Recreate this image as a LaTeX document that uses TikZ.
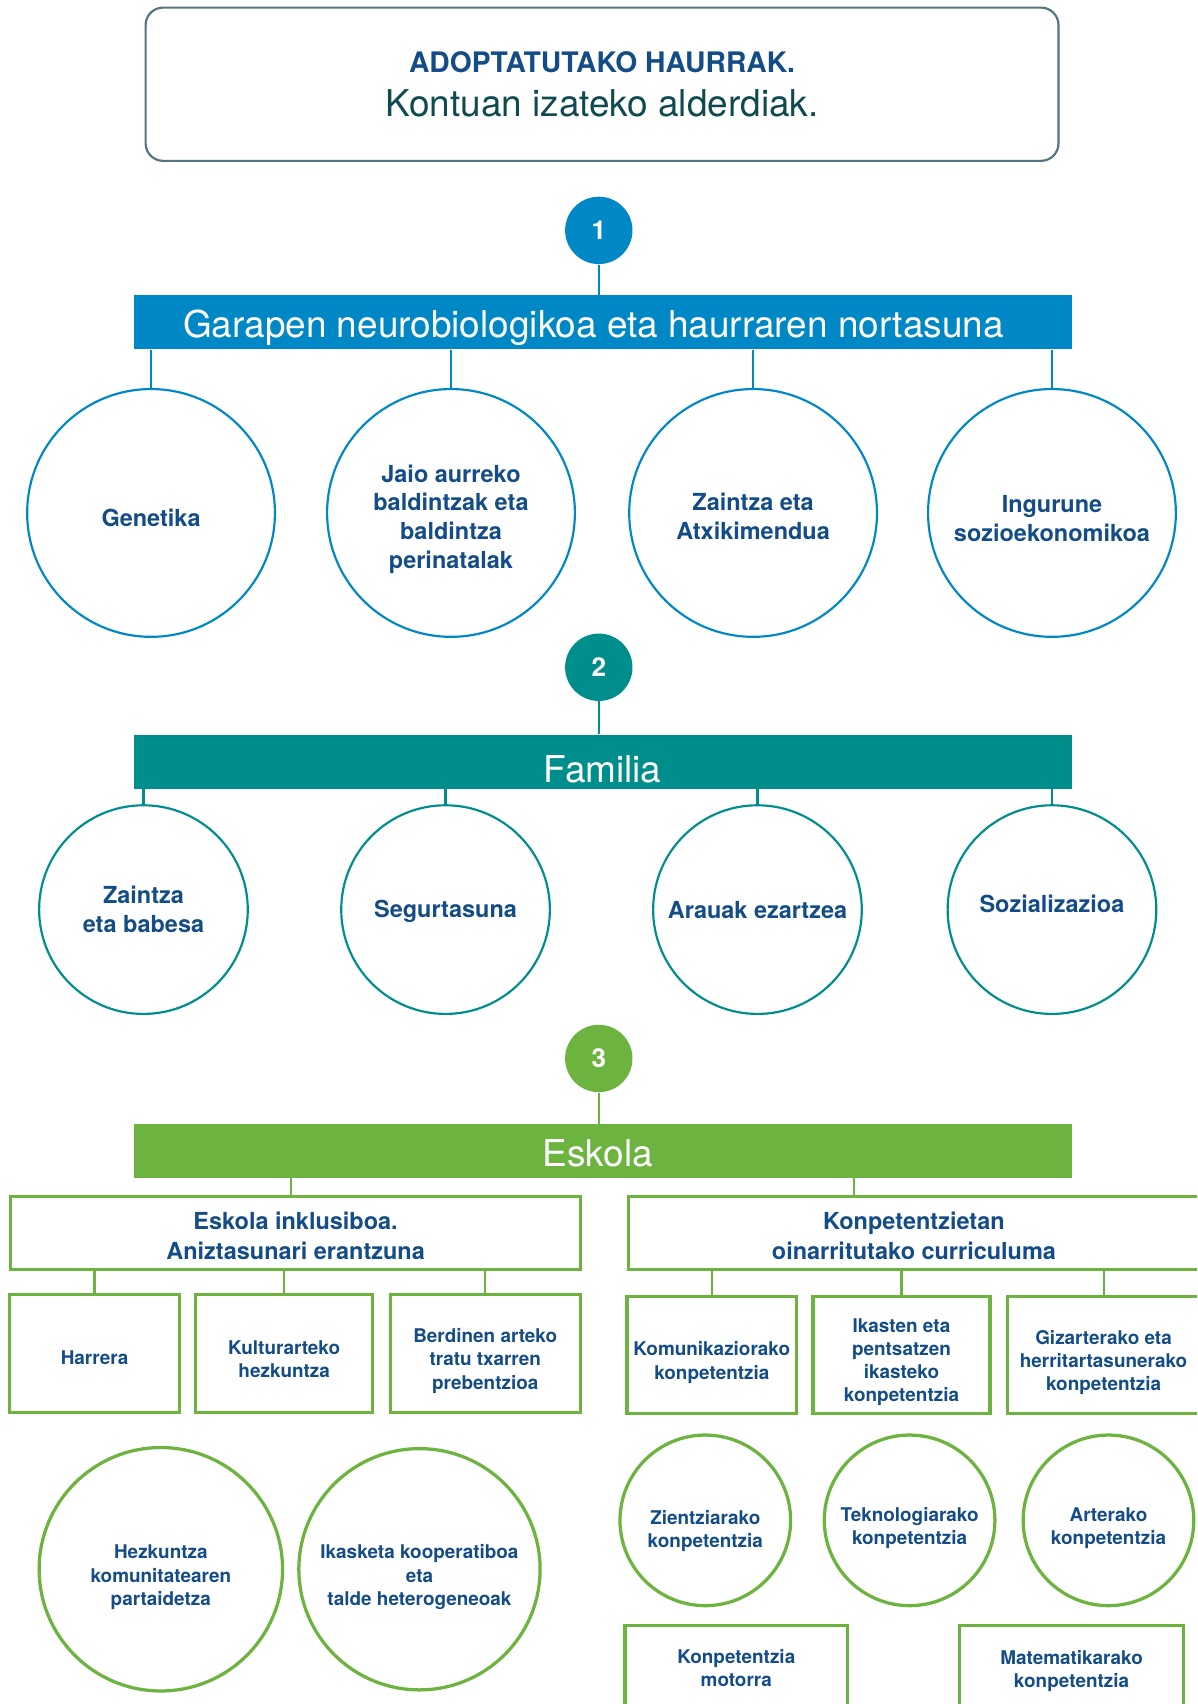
\documentclass[tikz,border=0pt]{standalone}
\usepackage{fontspec}
\setmainfont{TeX Gyre Heros}
\definecolor{cblue}{HTML}{0088C6}
\definecolor{cteal}{HTML}{008E8C}
\definecolor{cgreen}{HTML}{6DB33F}
\definecolor{ctext}{HTML}{134C86}
\definecolor{cframe}{HTML}{56737F}
\definecolor{ctitle}{HTML}{0F4A50}
\newcommand\fsz[2]{\fontsize{#1}{#2}\selectfont}
\newcommand\lift[1]{\rule{0pt}{#1}}
\begin{document}
\begin{tikzpicture}[x=0.5pt,y=-0.5pt,
  num/.style={circle, fill=#1, minimum size=31pt, inner sep=0pt, text=white, font=\bfseries\fsz{12}{14}},
  bar/.style={fill=#1, minimum width=431.5pt, minimum height=24.75pt, inner sep=0pt, text=white, font=\fsz{17}{19}},
  conn/.style={draw=#1, line width=1pt},
  ring/.style={circle, draw=#1, line width=1pt, inner sep=0pt, align=center, text=ctext},
  gbox/.style={draw=cgreen, line width=1.5pt, inner sep=0pt, align=center, text=ctext},
  lab1/.style={font=\bfseries\fsz{10.8}{13.3}},
  lab2/.style={font=\bfseries\fsz{8.7}{10.7}},
  shl/.style={execute at end node={\hspace*{#1}}}
]
\useasboundingbox (0,0) rectangle (1101.5,1568);
\clip (0,0) rectangle (1101.5,1568);

% title
\node[draw=cframe, line width=1pt, rounded corners=8pt, minimum width=420pt, minimum height=70.5pt, align=center] (title) at (554,77.5)
  {{\bfseries\fsz{13}{15}\color{ctext}ADOPTATUTAKO HAURRAK.}\\[7pt]{\fsz{17}{20}\color{ctitle}Kontuan izateko alderdiak.}};

% level 1
\node[num=cblue] (n1) at (551,212) {1};
\node[bar=cblue, shl=8.5pt] (b1) at (554.5,296.5) {\lift{18.2pt}Garapen neurobiologikoa eta haurraren nortasuna};
\draw[conn=cblue] (n1) -- (n1 |- b1.north);
\node[ring=cblue, minimum size=114pt, lab1] (c11) at (139,472) {\lift{13pt}Genetika};
\node[ring=cblue, minimum size=114pt, lab1] (c12) at (415,472) {\lift{13.8pt}Jaio aurreko\\baldintzak eta\\baldintza\\perinatalak};
\node[ring=cblue, minimum size=114pt, lab1] (c13) at (693,472) {\lift{11pt}Zaintza eta\\Atxikimendua};
\node[ring=cblue, minimum size=114pt, lab1] (c14) at (968,472) {\lift{13.3pt}Ingurune\\sozioekonomikoa};
\foreach \c in {c11,c12,c13,c14} \draw[conn=cblue] (\c.north) -- (\c.north |- b1.south);

% level 2
\node[num=cteal] (n2) at (551,614) {2};
\node[bar=cteal] (b2) at (554.5,701) {\lift{19.2pt}Familia};
\draw[conn=cteal] (n2) -- (n2 |- b2.north);
\node[ring=cteal, minimum size=96pt, lab1] (c21) at (132,837) {Zaintza\\eta babesa};
\node[ring=cteal, minimum size=96pt, lab1] (c22) at (410,837) {\lift{9.8pt}Segurtasuna};
\node[ring=cteal, minimum size=96pt, lab1] (c23) at (697,837) {Arauak ezartzea};
\node[ring=cteal, minimum size=96pt, lab1, text depth=5pt] (c24) at (968,837) {Sozializazioa};
\foreach \c in {c21,c22,c23,c24} \draw[conn=cteal] (\c.north) -- (\c.north |- b2.south);

% level 3
\node[num=cgreen] (n3) at (551,974) {3};
\node[bar=cgreen, shl=4.5pt] (b3) at (554.5,1059) {\lift{14.2pt}Eskola};
\draw[conn=cgreen] (n3) -- (n3 |- b3.north);

\node[gbox, minimum width=262pt, minimum height=33.5pt, font=\bfseries\fsz{10.8}{13.5}] (bA) at (272,1134.5) {\lift{10.8pt}Eskola inklusiboa.\\Aniztasunari erantzuna};
\node[gbox, minimum width=263pt, minimum height=33.5pt, font=\bfseries\fsz{10.8}{13.5}] (bB) at (841,1134.5) {\lift{10.8pt}Konpetentzietan\\oinarritutako curriculuma};
\coordinate (kA) at (268,1084);
\coordinate (kB) at (786,1084);
\draw[conn=cgreen] (kA) -- (kA |- bA.north);
\draw[conn=cgreen] (kB) -- (kB |- bB.north);

\node[gbox, minimum width=78pt, minimum height=54.5pt, lab2] (a1) at (87,1245.5) {\lift{10.3pt}Harrera};
\node[gbox, minimum width=81.5pt, minimum height=54.5pt, lab2] (a2) at (261.5,1245.5) {\lift{11.3pt}Kulturarteko\\hezkuntza};
\node[gbox, minimum width=87.5pt, minimum height=54.5pt, lab2] (a3) at (446.5,1245.5) {\lift{13.3pt}Berdinen arteko\\tratu txarren\\prebentzioa};
\foreach \c in {a1,a2,a3} \draw[conn=cgreen] (\c.north) -- (\c.north |- bA.south);

\node[gbox, minimum width=78pt, minimum height=54pt, lab2] (k1) at (655,1247) {\lift{13.3pt}Komunikaziorako\\konpetentzia};
\node[gbox, minimum width=81.5pt, minimum height=54pt, lab2] (k2) at (829.5,1247) {\lift{12.8pt}Ikasten eta\\pentsatzen\\ikasteko\\konpetentzia};
\node[gbox, minimum width=88.5pt, minimum height=54pt, lab2] (k3) at (1015.5,1247) {\lift{13.3pt}Gizarterako eta\\herritartasunerako\\konpetentzia};
\foreach \c in {k1,k2,k3} \draw[conn=cgreen] (\c.north) -- (\c.north |- bB.south);

\node[ring=cgreen, minimum size=112pt, lab2, line width=1.5pt] (e1) at (148,1444) {\lift{13.8pt}Hezkuntza\\komunitatearen\\partaidetza};
\node[ring=cgreen, minimum size=111pt, lab2, line width=1.5pt] (e2) at (386,1444) {\lift{13.8pt}Ikasketa kooperatiboa\\eta\\talde heterogeneoak};

\node[ring=cgreen, minimum size=78.5pt, lab2, line width=1.5pt] (s1) at (649,1399) {\lift{16.3pt}Zientziarako\\konpetentzia};
\node[ring=cgreen, minimum size=78.5pt, lab2, line width=1.5pt] (s2) at (837,1399) {\lift{13.3pt}Teknologiarako\\konpetentzia};
\node[ring=cgreen, minimum size=78.5pt, lab2, line width=1.5pt] (s3) at (1020,1399) {\lift{13.3pt}Arterako\\konpetentzia};

\node[gbox, minimum width=102.5pt, minimum height=39pt, lab2] (m1) at (677.5,1535) {Konpetentzia\\motorra};
\node[gbox, minimum width=103pt, minimum height=39pt, lab2] (m2) at (986,1535) {\lift{9.3pt}Matematikarako\\konpetentzia};
\end{tikzpicture}
\end{document}
